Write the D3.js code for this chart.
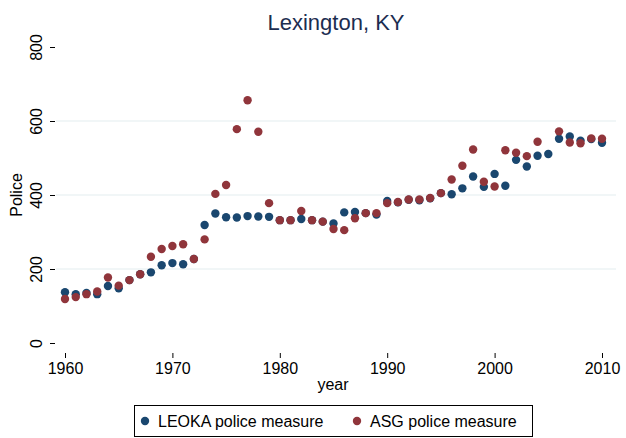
<!DOCTYPE html>
<html><head><meta charset="utf-8">
<script src="https://cdn.jsdelivr.net/npm/d3@7"></script>
<style>body{margin:0;background:#fff;}svg{display:block;font-family:"Liberation Sans",Arial,sans-serif;}</style>
</head><body>
<script>
const years = d3.range(1960, 2011);
const leoka = [137,132,135,132,154,148,170,186,191,210,216,213,227,319,350,340,339,343,342,341,332,332,335,332,328,323,353,354,351,347,384,380,387,386,391,405,402,418,450,422,457,425,495,477,506,511,552,558,547,551,541];
const asg = [119,124,132,139,177,155,170,186,233,254,262,267,227,280,403,427,578,656,571,378,332,332,357,332,328,308,305,337,351,351,378,381,388,388,392,405,442,479,523,436,423,521,514,505,544,null,572,542,540,553,552];
const yTicks = [0,200,400,600,800];
const xTicks = [1960,1970,1980,1990,2000,2010];
const seriesNames = ["LEOKA police measure","ASG police measure"];
const colors = ["#1a476f","#90353b"];

const W=626,H=438;
const svg=d3.select("body").append("svg").attr("width",W).attr("height",H);
const x=d3.scaleLinear().domain([1960,2010]).range([65,602]);
const y=d3.scaleLinear().domain([0,800]).range([343,47]);

// gridlines
svg.append("g").selectAll("line").data([200,400,600]).enter().append("line")
 .attr("x1",56).attr("x2",616).attr("y1",d=>y(d)).attr("y2",d=>y(d))
 .attr("stroke","#e4eef0").attr("stroke-width",1.2);

// y axis
const ya=svg.append("g").attr("transform","translate(55,0)")
 .call(d3.axisLeft(y).tickValues(yTicks).tickSize(5).tickPadding(4));
ya.select(".domain").remove();
ya.selectAll("line").attr("stroke","#000");
ya.selectAll("text").attr("font-size",16).attr("fill","#000")
 .attr("x",0).attr("y",0).attr("dy",null).attr("text-anchor","middle")
 .attr("transform","translate(-13,0) rotate(-90)");

// x axis
const xa=svg.append("g").attr("transform","translate(0,353)")
 .call(d3.axisBottom(x).tickValues(xTicks).tickFormat(d3.format("d")).tickSize(5).tickPadding(5));
xa.select(".domain").remove();
xa.selectAll("line").attr("stroke","#000");
xa.selectAll("text").attr("font-size",16).attr("fill","#000");

// points
const data=[leoka,asg];
data.forEach((s,i)=>{
  svg.append("g").selectAll("circle").data(years.map((yr,j)=>({yr,v:s[j]})).filter(d=>d.v!=null))
   .enter().append("circle").attr("cx",d=>x(d.yr)).attr("cy",d=>y(d.v)).attr("r",4.2)
   .attr("fill",colors[i]);
});

// title & labels
svg.append("text").attr("x",336).attr("y",30).attr("text-anchor","middle").attr("font-size",22)
 .attr("fill","#1c2d50").text("Lexington, KY");
svg.append("text").attr("transform","translate(22,195) rotate(-90)").attr("text-anchor","middle")
 .attr("font-size",16).text("Police");
svg.append("text").attr("x",333).attr("y",390).attr("text-anchor","middle").attr("font-size",16).text("year");

// legend
const lg=svg.append("g");
lg.append("rect").attr("x",134.5).attr("y",405.5).attr("width",398).attr("height",31)
 .attr("fill","#fff").attr("stroke","#000").attr("stroke-width",1);
const lx=[145,357];
seriesNames.forEach((n,i)=>{
  lg.append("circle").attr("cx",lx[i]).attr("cy",421).attr("r",4.2).attr("fill",colors[i]);
  lg.append("text").attr("x",lx[i]+13).attr("y",427).attr("font-size",16).text(n);
});
</script>
</body></html>
